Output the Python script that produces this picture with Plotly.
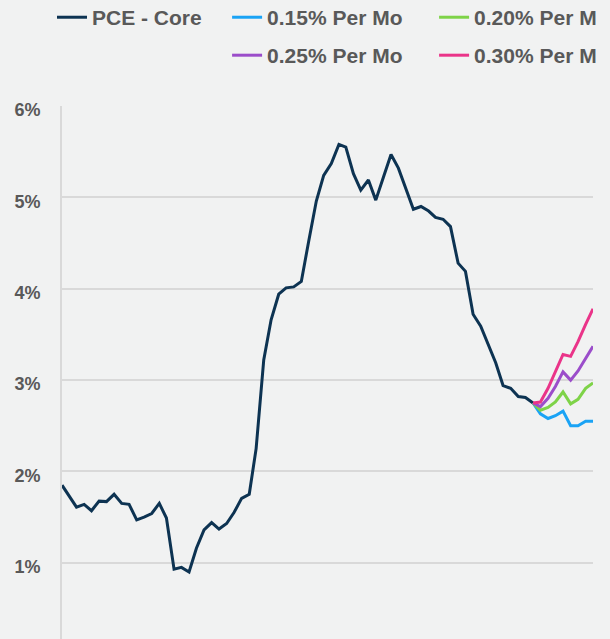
import pandas as pd
import plotly.graph_objects as go

# ---- data ----
months = pd.date_range("2019-01-01", "2024-12-01", freq="MS")

pce_core = [1.85, 1.73, 1.61, 1.64, 1.57, 1.675, 1.67, 1.75, 1.65, 1.64, 1.47, 1.50,
            1.54, 1.65, 1.49, 0.93, 0.95, 0.90, 1.16, 1.36, 1.44, 1.37, 1.43, 1.55,
            1.705, 1.75, 2.25, 3.22, 3.66, 3.94, 4.01, 4.02, 4.08, 4.52, 4.96, 5.24,
            5.37, 5.58, 5.55, 5.26, 5.08, 5.19, 4.97, 5.22, 5.47, 5.32, 5.09, 4.87,
            4.90, 4.85, 4.78, 4.76, 4.68, 4.28, 4.19, 3.72, 3.59, 3.40, 3.19, 2.94,
            2.91, 2.82, 2.81, 2.75]

proj_015 = [2.75, 2.63, 2.58, 2.61, 2.66, 2.50, 2.50, 2.55, 2.55]
proj_020 = [2.75, 2.67, 2.70, 2.76, 2.87, 2.74, 2.79, 2.91, 2.97]
proj_025 = [2.75, 2.71, 2.80, 2.93, 3.09, 3.00, 3.10, 3.24, 3.37]
proj_030 = [2.75, 2.76, 2.91, 3.09, 3.28, 3.26, 3.42, 3.61, 3.78]

series_names = ["PCE - Core", "0.15% Per Mo", "0.20% Per M", "0.25% Per Mo", "0.30% Per M"]
tick_vals = [1, 2, 3, 4, 5, 6]
tick_text = ["1%", "2%", "3%", "4%", "5%", "6%"]

# ---- figure ----
hist_x = months[:len(pce_core)]
proj_x = months[len(pce_core) - 1:]

BG = "#f1f2f2"
colors = ["#0d3352", "#1aa3f5", "#7ed348", "#9b4dca", "#ea3489"]
legends = ["legend", "legend2", "legend2", "legend3", "legend3"]

fig = go.Figure()
all_y = [pce_core, proj_015, proj_020, proj_025, proj_030]
for k, (name, ys) in enumerate(zip(series_names, all_y)):
    xs = hist_x if k == 0 else proj_x
    fig.add_trace(go.Scatter(
        x=xs, y=ys, mode="lines", name=name,
        line=dict(color=colors[k], width=3),
        legend=legends[k],
    ))

W, H = 610, 639
L, R, T, B = 62, 17.3, 105.5, 0
ph = H - T - B
pw = W - L - R

def px_to_paper_x(px):
    return (px - L) / pw

def py_to_paper_y(py):
    return 1 + (T - py) / ph

leg_font = dict(family="Liberation Sans, Arial, sans-serif", size=21, color="#595959", weight="bold")
common = dict(orientation="h", xanchor="left", yanchor="middle", bgcolor="rgba(0,0,0,0)",
              font=leg_font, entrywidthmode="pixels", itemclick=False)

fig.update_layout(
    width=W, height=H,
    margin=dict(l=L, r=R, t=T, b=B, autoexpand=False),
    paper_bgcolor=BG,
    plot_bgcolor=BG,
    showlegend=True,
    legend=dict(x=px_to_paper_x(52), y=py_to_paper_y(17), entrywidth=110, **common),
    legend2=dict(x=px_to_paper_x(227), y=py_to_paper_y(17), entrywidth=162, **common),
    legend3=dict(x=px_to_paper_x(227), y=py_to_paper_y(55), entrywidth=162, **common),
    xaxis=dict(visible=False, range=[months[0], months[-1]], fixedrange=True),
    yaxis=dict(
        range=[(654.2 - H) / 91.45, 6.0],
        tickvals=tick_vals, ticktext=tick_text,
        showgrid=True, gridcolor="#d9d9d9", gridwidth=2,
        showline=True, linecolor="#d9d9d9", linewidth=2,
        zeroline=False, ticks="", ticklabelstandoff=16, ticklabelshift=4,
        tickfont=dict(family="Liberation Sans, Arial, sans-serif", size=18, color="#595959", weight="bold"),
        fixedrange=True,
    ),
)

fig.write_html(
    "out.html",
    config={"displayModeBar": False},
    post_script="document.body.style.margin='0px';document.body.style.background='%s';" % BG,
)
